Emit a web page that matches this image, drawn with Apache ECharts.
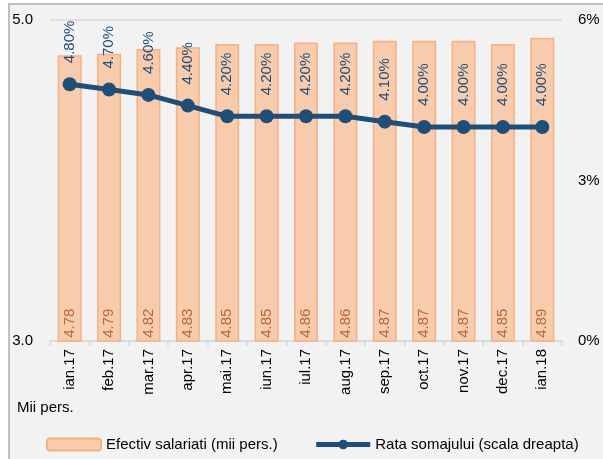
<!DOCTYPE html>
<html>
<head>
<meta charset="utf-8">
<script src="https://cdn.jsdelivr.net/npm/echarts@6/dist/echarts.min.js"></script>
<style>
html,body{margin:0;padding:0;background:#fff;}
#bg{position:absolute;left:8px;top:3px;width:600px;height:460px;background:#f2f2f2;border-top:2px solid #c0c0c0;border-left:2px solid #c0c0c0;}
#chart{position:absolute;left:0;top:0;width:603px;height:459px;}
</style>
</head>
<body>
<div id="bg"></div>
<div id="chart"></div>
<script>
var categories = ['ian.17','feb.17','mar.17','apr.17','mai.17','iun.17','iul.17','aug.17','sep.17','oct.17','nov.17','dec.17','ian.18'];
var employees = [4.78,4.79,4.82,4.83,4.85,4.85,4.86,4.86,4.87,4.87,4.87,4.85,4.89];
var unemployment = [4.8,4.7,4.6,4.4,4.2,4.2,4.2,4.2,4.1,4.0,4.0,4.0,4.0];
var leftTicks = [3.0, 5.0];
var rightTicks = [0, 3, 6];

var font = 'Liberation Sans, Arial, sans-serif';
var chart = echarts.init(document.getElementById('chart'), null, {renderer:'canvas'});
chart.setOption({
  backgroundColor: 'transparent',
  textStyle: {fontFamily: font},
  animation: false,
  grid: {left: 50, right: 41, top: 20, bottom: 118},
  legend: {
    left: 41, top: 432, itemWidth: 54, itemHeight: 12, itemGap: 36,
    textStyle: {fontSize: 15, color: '#000', fontFamily: font},
    data: [
      {name: 'Efectiv salariati (mii pers.)'},
      {name: 'Rata somajului (scala dreapta)', lineStyle: {width: 5}}
    ]
  },
  graphic: [{type:'text', left: 17, top: 400, style:{text:'Mii pers.', font: '15px ' + font, fill:'#000'}}],
  xAxis: {
    type: 'category', data: categories,
    axisLine: {lineStyle: {color: '#d9d9d9', width: 1.5}},
    axisTick: {show: true, alignWithLabel: false, length: 5, lineStyle: {color: '#d9d9d9', width: 1.5}},
    axisLabel: {rotate: 90, fontSize: 15, color: '#000', margin: 8, fontFamily: font}
  },
  yAxis: [{
    type: 'value', min: leftTicks[0], max: leftTicks[leftTicks.length-1], interval: leftTicks[1]-leftTicks[0],
    axisLine: {show: false}, axisTick: {show: false},
    splitLine: {show: true, lineStyle: {color: '#d9d9d9', width: 1.5}},
    axisLabel: {fontSize: 15, color: '#000', margin: 17, formatter: function(v){return v.toFixed(1);}, fontFamily: font}
  }, {
    type: 'value', min: rightTicks[0], max: rightTicks[rightTicks.length-1], interval: rightTicks[1]-rightTicks[0],
    axisLine: {show: false}, axisTick: {show: false}, splitLine: {show: false},
    axisLabel: {fontSize: 15, color: '#000', margin: 16, formatter: '{value}%', fontFamily: font}
  }],
  series: [{
    name: 'Efectiv salariati (mii pers.)', type: 'bar', data: employees, yAxisIndex: 0,
    barWidth: 24,
    itemStyle: {color: '#f8cbad', borderColor: '#f4b183', borderWidth: 1.5},
    label: {show: true, position: 'insideBottom', distance: 4, rotate: 90, align: 'left', verticalAlign: 'middle',
      fontSize: 15, color: '#b9683a', fontFamily: font, formatter: function(p){return p.value.toFixed(2);}}
  }, {
    name: 'Rata somajului (scala dreapta)', type: 'line', data: unemployment, yAxisIndex: 1, z: 5,
    symbol: 'circle', symbolSize: 14,
    lineStyle: {color: '#1f4e79', width: 5},
    itemStyle: {color: '#1f4e79'},
    label: {show: true, position: 'top', distance: 14, rotate: 90, align: 'left', verticalAlign: 'middle',
      fontSize: 15, color: '#1f4e79', fontFamily: font, formatter: function(p){return p.value.toFixed(2) + '%';}}
  }]
});
</script>
</body>
</html>
